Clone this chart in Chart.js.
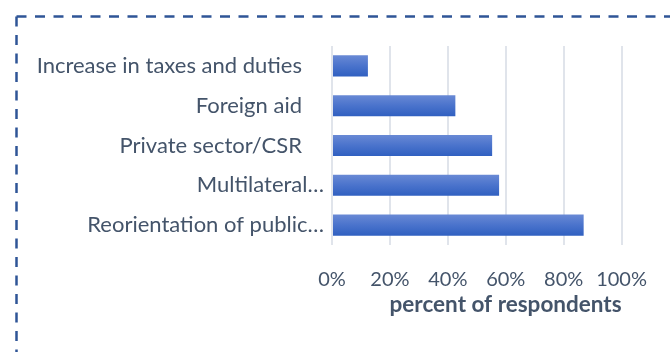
<!DOCTYPE html>
<html>
<head>
<meta charset="utf-8">
<script src="https://cdn.jsdelivr.net/npm/chart.js@4/dist/chart.umd.min.js"></script>
<style>
    html, body { margin: 0; padding: 0; background: #ffffff; }
    #chartWrap { position: relative; width: 670px; height: 352px; }
</style>
</head>
<body>
<div id="chartWrap"><canvas id="fundingChart"></canvas></div>
<script>
// Funding sources, top to bottom as drawn
const categories = [
    'Increase in taxes and duties',
    'Foreign aid',
    'Private sector/CSR',
    'Multilateral…',
    'Reorientation of public…',
];

// Share of respondents, in percent
const respondentShare = [12.4, 42.6, 55.3, 57.7, 86.9];

const xTicks = [0, 20, 40, 60, 80, 100];

const TEXT_COLOR = '#44546a';
const FONT_FAMILY = 'Lato, "Open Sans", sans-serif';

/**
 * Dashed frame round the chart; it runs off the right and bottom edges.
 */
const dashedFrame = {
    id: 'dashedFrame',
    beforeDraw(chart) {
        const { ctx, width, height } = chart;
        ctx.save();
        ctx.strokeStyle = '#2f5597';
        ctx.lineWidth = 2.5;
        ctx.setLineDash([10, 8.5]);
        ctx.beginPath();
        ctx.moveTo(16.5, 16.5);
        ctx.lineTo(width + 10, 16.5);
        ctx.moveTo(16.5, 16.5);
        ctx.lineTo(16.5, height + 10);
        ctx.stroke();
        ctx.restore();
    },
};

/**
 * Vertical gradient for one bar, light at the top and darker below.
 * @param {object} context
 */
function barFill(context) {
    const chart = context.chart;
    const yScale = chart.scales.y;
    const centre = yScale && context.dataIndex !== undefined
        ? yScale.getPixelForValue(context.dataIndex)
        : NaN;
    if (!Number.isFinite(centre)) {
        return '#4a73cc';
    }
    const half = 11;
    const gradient = chart.ctx.createLinearGradient(0, centre - half, 0, centre + half);
    gradient.addColorStop(0, '#6a8ad5');
    gradient.addColorStop(0.5, '#4a73cc');
    gradient.addColorStop(1, '#2f5fc0');
    return gradient;
}

new Chart(document.getElementById('fundingChart'), {
    type: 'bar',
    data: {
        labels: categories,
        datasets: [
            {
                data: respondentShare,
                backgroundColor: barFill,
                borderWidth: 0,
                categoryPercentage: 1,
                barPercentage: 0.53,
            },
        ],
    },
    options: {
        indexAxis: 'y',
        responsive: true,
        maintainAspectRatio: false,
        animation: false,
        layout: { padding: { top: 46, right: 47, bottom: 0, left: 0 } },
        plugins: {
            legend: { display: false },
            tooltip: { enabled: false },
        },
        scales: {
            x: {
                min: 0,
                max: 100,
                afterBuildTicks(scale) {
                    scale.ticks = xTicks.map((value) => ({ value }));
                },
                afterFit(scale) {
                    scale.height = 107;
                },
                grid: { color: '#e0e4eb', lineWidth: 2, drawTicks: false },
                border: { display: false },
                ticks: {
                    padding: 23,
                    color: TEXT_COLOR,
                    font: { family: FONT_FAMILY, size: 20 },
                    callback: (value) => `${value}%`,
                },
                title: {
                    display: true,
                    text: 'percent of respondents',
                    align: 'end',
                    color: TEXT_COLOR,
                    font: { family: FONT_FAMILY, size: 22.5, weight: 'bold' },
                    padding: { top: 0, bottom: 34 },
                },
            },
            y: {
                afterFit(scale) {
                    scale.width = 332;
                },
                grid: { display: false },
                border: { display: false },
                ticks: {
                    padding: 0,
                    color: TEXT_COLOR,
                    font: { family: FONT_FAMILY, size: 22 },
                    // full labels sit a little left of the truncated ones
                    callback(value) {
                        const label = categories[value];
                        return label.endsWith('…') ? label : `${label}\u2002\u2002`;
                    },
                },
            },
        },
    },
    plugins: [dashedFrame],
});
</script>
</body>
</html>
